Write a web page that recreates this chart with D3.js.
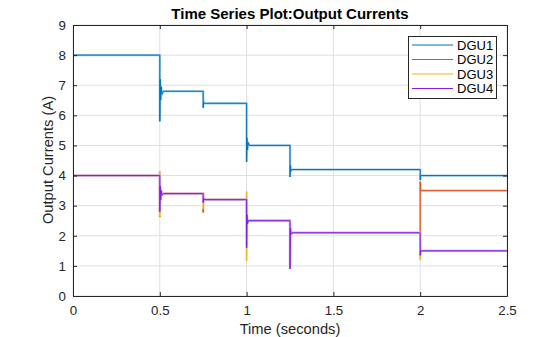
<!DOCTYPE html>
<html><head><meta charset="utf-8">
<script src="https://cdn.jsdelivr.net/npm/d3@7"></script>
<style>body{margin:0;background:#fff}svg{display:block;font-family:"Liberation Sans",Arial,sans-serif}</style>
</head><body><svg id="c" width="560" height="337"></svg>
<script>
const seriesNames = ["DGU1","DGU2","DGU3","DGU4"];
const seriesColors = ["#0072BD","#D95319","#EDB120","#7E1CE0"];
const xTicks = [0,0.5,1,1.5,2,2.5];
const xTickLabels = ["0","0.5","1","1.5","2","2.5"];
const yTicks = [0,1,2,3,4,5,6,7,8,9];
const yTickLabels = ["0","1","2","3","4","5","6","7","8","9"];

const timeDGU1 = [0,0.5,0.5,0.502,0.505,0.508,0.512,0.52,0.75,0.75,0.752,0.756,1.0,1.0,1.002,1.005,1.009,1.015,1.25,1.25,1.252,1.256,1.262,2.0,2.0,2.003,2.5];
const valDGU1  = [8,8,5.8,7.2,6.5,6.95,6.7,6.8,6.8,6.25,6.45,6.4,6.4,4.45,5.25,4.85,5.1,5.0,5.0,3.95,4.35,4.15,4.2,4.2,3.85,4.0,4.0];

const timeDGU2 = [0,0.5,0.5,0.5,0.502,0.505,0.508,0.512,0.52,0.75,0.75,0.752,0.756,1.0,1.0,1.002,1.005,1.01,1.25,1.25,1.252,1.256,1.262,2.0,2.0,2.003,2.5];
const valDGU2  = [4,4,4.15,2.62,3.6,3.2,3.5,3.35,3.4,3.4,2.77,3.25,3.2,3.2,1.7,2.65,2.4,2.5,2.5,1.0,2.25,2.05,2.1,2.1,3.8,3.5,3.5];

const timeDGU3 = [0,0.5,0.5,0.5,0.502,0.505,0.508,0.512,0.52,0.75,0.75,0.752,0.756,1.0,1.0,1.0,1.002,1.005,1.01,1.25,1.25,1.252,1.256,1.262,2.0,2.0,2.003,2.5];
const valDGU3  = [4,4,4.15,2.65,3.6,3.2,3.5,3.35,3.4,3.4,2.9,3.25,3.2,3.2,3.47,1.16,2.7,2.4,2.5,2.5,1.0,2.25,2.05,2.1,2.1,1.2,1.5,1.5];

const timeDGU4 = [0,0.5,0.5,0.502,0.505,0.508,0.512,0.52,0.75,0.75,0.752,0.756,1.0,1.0,1.002,1.005,1.01,1.25,1.25,1.252,1.256,1.262,2.0,2.0,2.003,2.5];
const valDGU4  = [4,4,2.8,3.65,3.2,3.5,3.35,3.4,3.4,3.1,3.25,3.2,3.2,1.6,2.7,2.4,2.5,2.5,0.9,2.25,2.05,2.1,2.1,1.35,1.5,1.5];

const seriesTimes = [timeDGU1,timeDGU2,timeDGU3,timeDGU4];
const seriesVals = [valDGU1,valDGU2,valDGU3,valDGU4];

const svg = d3.select("#c");
const L=73,R=507,T=25,B=296;
const x = d3.scaleLinear().domain([0,2.5]).range([L,R]);
const y = d3.scaleLinear().domain([0,9]).range([B,T]);
const axisCol="#262626";

// grid
svg.append("g").selectAll("line").data(xTicks).join("line")
  .attr("x1",d=>x(d)).attr("x2",d=>x(d)).attr("y1",T).attr("y2",B)
  .attr("stroke","#dfdfdf").attr("stroke-width",1);
svg.append("g").selectAll("line").data(yTicks).join("line")
  .attr("y1",d=>y(d)).attr("y2",d=>y(d)).attr("x1",L).attr("x2",R)
  .attr("stroke","#dfdfdf").attr("stroke-width",1);

// series
const line = d3.line().x(d=>x(d[0])).y(d=>y(d[1]));
seriesNames.forEach((n,i)=>{
  const pts = seriesTimes[i].map((t,k)=>[t,seriesVals[i][k]]);
  const g = svg.append("g");
  g.append("path").datum(pts).attr("d",line).attr("fill","none")
    .attr("stroke",d3.interpolateRgb(seriesColors[i],"#fff")(0.6)).attr("stroke-width",2.2);
  g.append("path").datum(pts).attr("d",line).attr("fill","none")
    .attr("stroke",seriesColors[i]).attr("stroke-width",1);
});

// axes
const tk = 4;
const gx = svg.append("g").attr("transform",`translate(0,${B})`)
  .call(d3.axisBottom(x).tickValues(xTicks).tickFormat((d,i)=>xTickLabels[i]).tickSizeInner(-tk).tickSizeOuter(0).tickPadding(10));
const gxt = svg.append("g").attr("transform",`translate(0,${T})`)
  .call(d3.axisTop(x).tickValues(xTicks).tickFormat("").tickSizeInner(-tk).tickSizeOuter(0));
const gy = svg.append("g").attr("transform",`translate(${L},0)`)
  .call(d3.axisLeft(y).tickValues(yTicks).tickFormat((d,i)=>yTickLabels[i]).tickSizeInner(-tk).tickSizeOuter(0).tickPadding(7));
const gyr = svg.append("g").attr("transform",`translate(${R},0)`)
  .call(d3.axisRight(y).tickValues(yTicks).tickFormat("").tickSizeInner(-tk).tickSizeOuter(0));
[gx,gxt,gy,gyr].forEach(g=>{
  g.selectAll("path").attr("stroke",axisCol);
  g.selectAll("line").attr("stroke",axisCol);
  g.selectAll("text").attr("fill",axisCol).style("font-size","13.3px").style("font-family","Liberation Sans, Arial, sans-serif");
});
gx.selectAll("text").attr("dy","0.71em");

// titles
svg.append("text").attr("x",290).attr("y",19).attr("text-anchor","middle")
  .style("font-size","15px").style("font-weight","bold").attr("fill","#000").text("Time Series Plot:Output Currents");
svg.append("text").attr("x",290).attr("y",334).attr("text-anchor","middle")
  .style("font-size","14.7px").attr("fill",axisCol).text("Time (seconds)");
svg.append("text").attr("transform","translate(53,160) rotate(-90)").attr("text-anchor","middle")
  .style("font-size","14.7px").attr("fill",axisCol).text("Output Currents (A)");

// legend
const lg = svg.append("g");
lg.append("rect").attr("x",408.5).attr("y",36.5).attr("width",88).attr("height",62)
  .attr("fill","#fff").attr("stroke",axisCol).attr("stroke-width",1);
seriesNames.forEach((n,i)=>{
  const yy = 45 + i*14.5;
  lg.append("line").attr("x1",412).attr("x2",453).attr("y1",yy).attr("y2",yy)
    .attr("stroke",seriesColors[i]).attr("stroke-width",1);
  lg.append("text").attr("x",457).attr("y",yy).attr("dy","0.35em")
    .style("font-size","13px").attr("fill","#000").text(n);
});
</script></body></html>
